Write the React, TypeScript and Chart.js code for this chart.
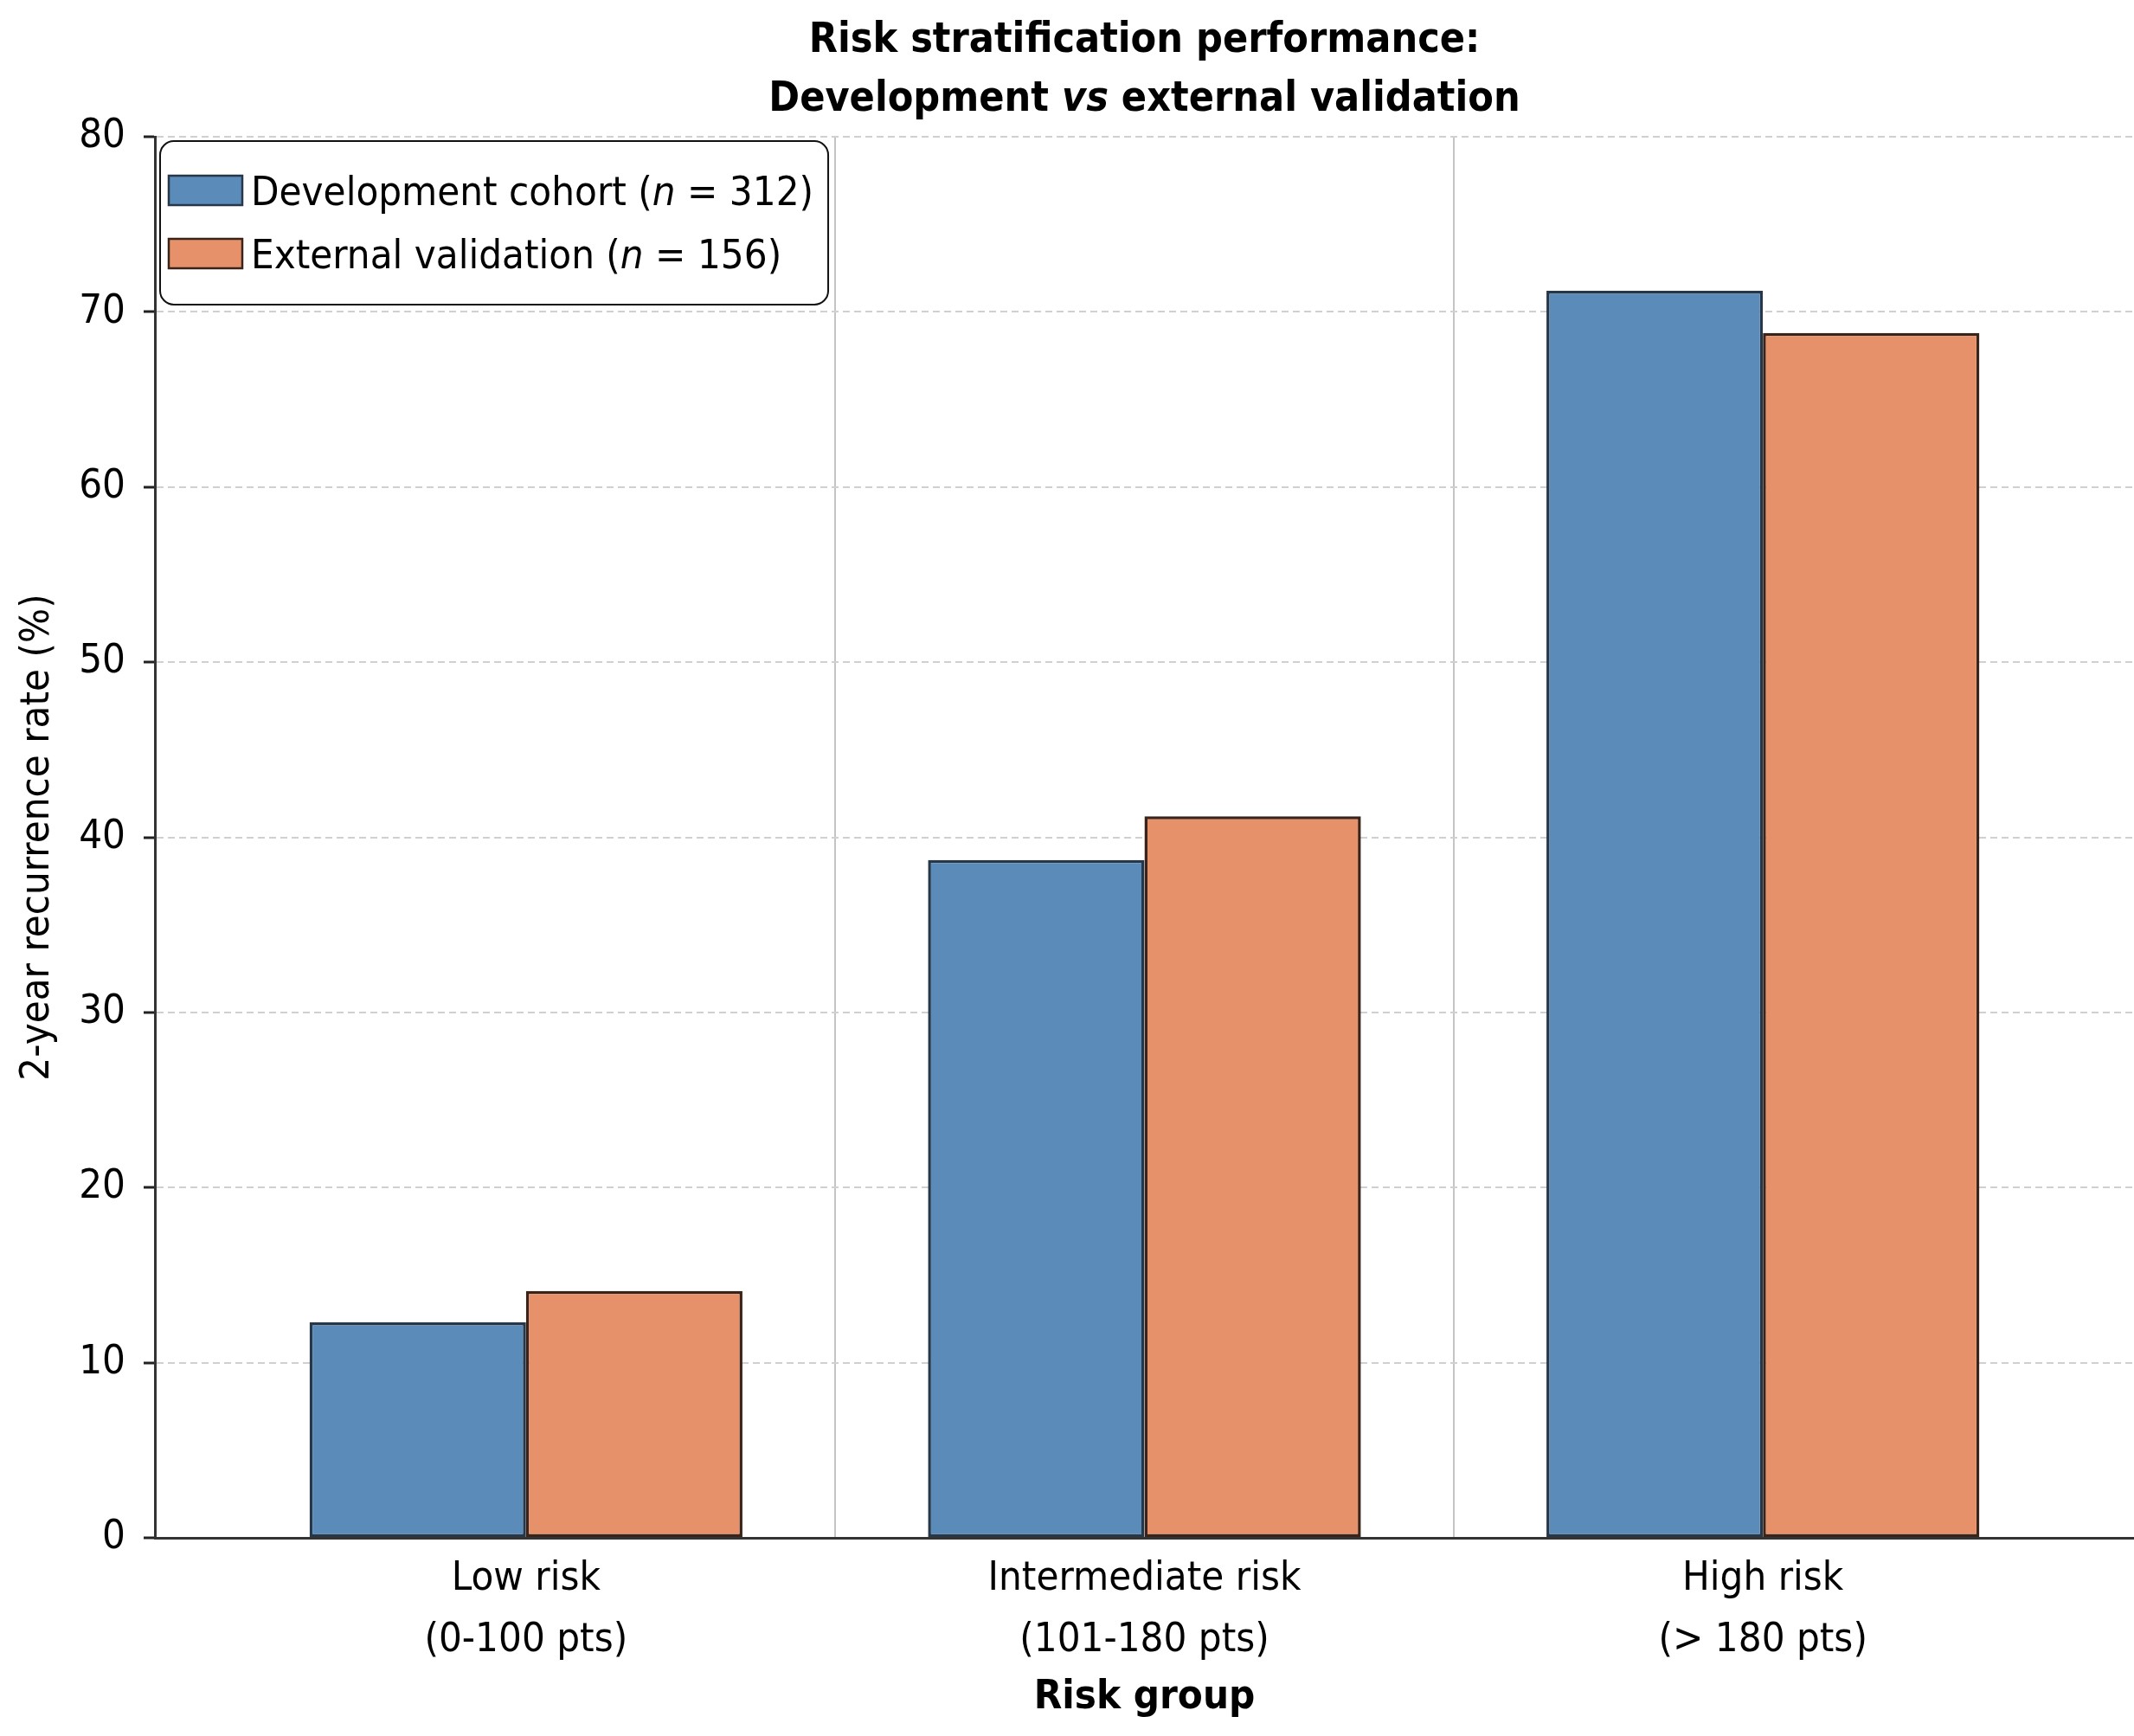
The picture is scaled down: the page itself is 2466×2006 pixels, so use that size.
import { useEffect, useRef } from "react"
import { Chart, registerables } from "chart.js"

Chart.register(...registerables)

const FONT = "'DejaVu Sans Condensed', 'DejaVu Sans', sans-serif"

// data
const categories = [
  ["Low risk", "(0-100 pts)"],
  ["Intermediate risk", "(101-180 pts)"],
  ["High risk", "(> 180 pts)"],
]
const seriesNames = ["Development cohort", "External validation"]
const seriesN = [312, 156]
const developmentRates = [12.3, 38.7, 71.2]
const validationRates = [14.1, 41.2, 68.8]
const yMin = 0
const yMax = 80
const yStep = 10

const fills = ["#5b8bb9", "#e6916a"]
const edges = ["#26374a", "#3a2419"]

type Part = { text: string; italic: boolean }

const titleLines: Part[][] = [
  [{ text: "Risk stratification performance:", italic: false }],
  [
    { text: "Development ", italic: false },
    { text: "vs", italic: true },
    { text: " external validation", italic: false },
  ],
]

function drawParts(ctx: CanvasRenderingContext2D, parts: Part[], x: number, y: number, size: number, weight: string, center: boolean) {
  const fontFor = (it: boolean) => `${it ? "italic " : ""}${weight} ${size}px ${FONT}`
  let total = 0
  for (const p of parts) {
    ctx.font = fontFor(p.italic)
    total += ctx.measureText(p.text).width
  }
  let cx = center ? x - total / 2 : x
  for (const p of parts) {
    ctx.font = fontFor(p.italic)
    ctx.fillText(p.text, cx, y)
    cx += ctx.measureText(p.text).width
  }
  return total
}

const titlePlugin = {
  id: "richTitle",
  afterDraw(chart: Chart) {
    const { ctx, chartArea } = chart
    const cx = (chartArea.left + chartArea.right) / 2
    ctx.save()
    ctx.fillStyle = "#000"
    ctx.textBaseline = "alphabetic"
    ctx.textAlign = "left"
    titleLines.forEach((line, i) => {
      drawParts(ctx, line, cx, 60 + i * 68, 48, "bold", true)
    })
    ctx.restore()
  },
}

const legendPlugin = {
  id: "richLegend",
  afterDraw(chart: Chart) {
    const { ctx, chartArea } = chart
    const items: Part[][] = seriesNames.map((name, i) => [
      { text: name + " (", italic: false },
      { text: "n", italic: true },
      { text: " = " + seriesN[i] + ")", italic: false },
    ])
    ctx.save()
    ctx.textAlign = "left"
    ctx.textBaseline = "alphabetic"
    let maxW = 0
    for (const parts of items) {
      let w = 0
      for (const p of parts) {
        ctx.font = `${p.italic ? "italic " : ""}47px ${FONT}`
        w += ctx.measureText(p.text).width
      }
      maxW = Math.max(maxW, w)
    }
    const x0 = chartArea.left + 6
    const y0 = chartArea.top + 5
    const sw = 85
    const sh = 34
    const boxW = 10 + sw + 10 + maxW + 17
    const boxH = 189
    ctx.beginPath()
    ctx.roundRect(x0, y0, boxW, boxH, 16)
    ctx.fillStyle = "#fff"
    ctx.fill()
    ctx.lineWidth = 2
    ctx.strokeStyle = "#111"
    ctx.stroke()
    items.forEach((parts, i) => {
      const top = y0 + 40 + i * 73
      ctx.fillStyle = fills[i]
      ctx.fillRect(x0 + 10, top, sw, sh)
      ctx.lineWidth = 2.5
      ctx.strokeStyle = edges[i]
      ctx.strokeRect(x0 + 10, top, sw, sh)
      ctx.fillStyle = "#000"
      drawParts(ctx, parts, x0 + 10 + sw + 10, top + sh, 47, "normal", false)
    })
    ctx.restore()
  },
}

export default function App() {
  const chartRef = useRef<HTMLCanvasElement>(null)
  const chartInstance = useRef<Chart | null>(null)

  useEffect(() => {
    if (!chartRef.current) return
    if (chartInstance.current) chartInstance.current.destroy()

    // x ticks at each category plus the separators between them
    const xTicks: number[] = []
    categories.forEach((_, i) => {
      xTicks.push(i)
      if (i < categories.length - 1) xTicks.push(i + 0.5)
    })

    const series = [developmentRates, validationRates]

    chartInstance.current = new Chart(chartRef.current, {
      type: "bar",
      data: {
        datasets: series.map((values, s) => ({
          label: seriesNames[s],
          data: values.map((v, i) => ({ x: i, y: v })),
          backgroundColor: fills[s],
          borderColor: edges[s],
          borderWidth: 3.5,
          borderSkipped: false,
          // ticks sit every half category, so the bar group takes 0.7 of a full category
          categoryPercentage: 0.7 * 2,
          barPercentage: 1,
        })),
      },
      options: {
        animation: false,
        responsive: true,
        maintainAspectRatio: false,
        layout: { padding: { top: 158, left: 0, right: 0, bottom: 0 } },
        font: { family: FONT },
        plugins: {
          legend: { display: false },
          title: { display: false },
          tooltip: { enabled: false },
        },
        scales: {
          x: {
            type: "linear",
            min: -0.6,
            max: 2.6,
            offset: false,
            afterBuildTicks: (scale: any) => {
              scale.ticks = xTicks.map((v) => ({ value: v }))
            },
            afterFit: (scale: any) => {
              scale.height = 229
            },
            ticks: {
              autoSkip: false,
              maxRotation: 0,
              minRotation: 0,
              padding: 13,
              color: "#000",
              font: { family: FONT, size: 47, lineHeight: 1.5 },
              callback: (value: any) => {
                const v = Number(value)
                return Number.isInteger(v) ? categories[v] : ""
              },
            },
            grid: {
              offset: false,
              drawTicks: false,
              lineWidth: 2,
              color: (c: any) => (c.tick && !Number.isInteger(c.tick.value) ? "#c4c4c4" : "rgba(0,0,0,0)"),
            },
            border: { display: true, color: "#333", width: 3 },
            title: {
              display: true,
              text: "Risk group",
              color: "#000",
              font: { family: FONT, size: 47, weight: "bold", lineHeight: 1.2 },
              padding: { top: 0, bottom: 16 },
            },
          },
          y: {
            min: yMin,
            max: yMax,
            afterFit: (scale: any) => {
              scale.width = 179
            },
            ticks: {
              stepSize: yStep,
              padding: 21,
              color: "#000",
              font: { family: FONT, size: 47 },
            },
            grid: {
              color: "#d0d0d0",
              lineWidth: 2,
              tickColor: "#222",
              tickLength: 13,
              tickWidth: 3,
            },
            border: { display: true, color: "#333", width: 3, dash: [8, 5] },
            title: {
              display: true,
              text: "2-year recurrence rate (%)",
              color: "#000",
              font: { family: FONT, size: 47, lineHeight: 1.2 },
              padding: 16,
            },
          },
        },
      } as any,
      plugins: [titlePlugin, legendPlugin],
    })

    return () => {
      if (chartInstance.current) {
        chartInstance.current.destroy()
        chartInstance.current = null
      }
    }
  }, [])

  return (
    <div style={{ position: "absolute", left: 0, top: 0, width: 2466, height: 2006, background: "#fff" }}>
      <canvas ref={chartRef} />
    </div>
  )
}
